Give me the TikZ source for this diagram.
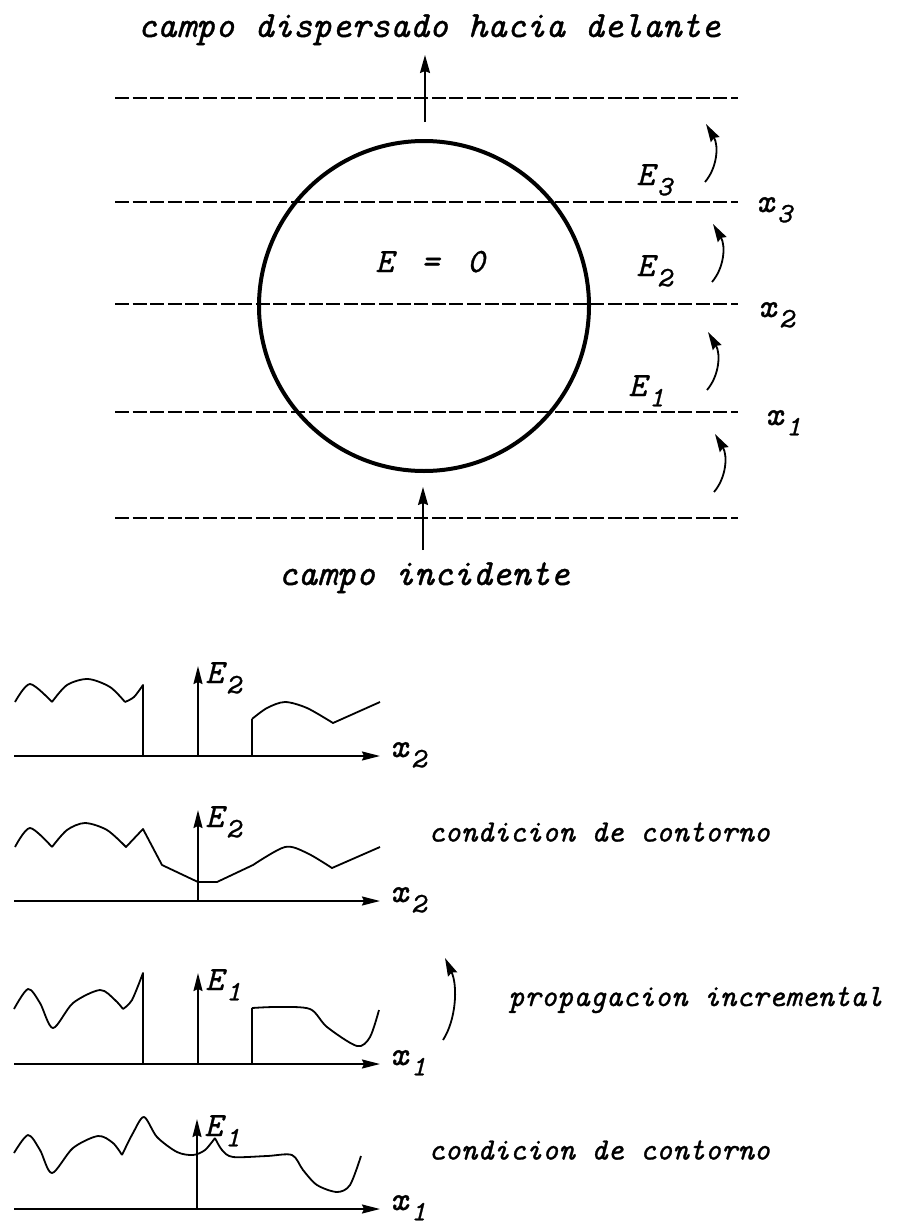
\documentclass[tikz,border=0pt]{standalone}
\usepackage{fontspec}
\usetikzlibrary{arrows.meta}

\newfontfamily\refit{lmmono10-italic.otf}[FakeBold=1]
\newcommand\bigfont{\fontsize{18.5}{22}\selectfont\refit}
\newcommand\lblfont{\fontsize{15.5}{18}\selectfont\refit}
\newcommand\symfont{\fontsize{17}{20}\selectfont\refit}
\newcommand\idx[2]{#1\kern1.5pt\raisebox{-0.7ex}{\fontsize{14}{16}\selectfont #2}}

\tikzset{
  cut/.style={line width=0.9pt, dash pattern=on 7pt off 1.8pt},
  ball/.style={line width=2pt},
  flow/.style={-{Stealth[length=9pt,width=5pt,inset=1pt]}, line width=0.9pt},
  turn/.style={-{Stealth[length=9pt,width=5pt,inset=1pt]}, line width=0.9pt},
  axe/.style={-{Stealth[length=9pt,width=4.5pt,inset=1pt]}, line width=0.9pt},
  field/.style={line width=0.9pt, line join=round},
  lbl/.style={inner sep=0pt, anchor=base west, font=\lblfont},
  sym/.style={inner sep=0pt, anchor=base west, font=\symfont},
  big/.style={inner sep=0pt, anchor=base, font=\bigfont}
}

\begin{document}
\begin{tikzpicture}[x=0.5pt, y=-0.5pt]
\useasboundingbox (0,0) rectangle (905,1226);

% upper part: sphere cut into slabs
\foreach \yy in {98,202,304,412,518}
  \draw[cut] (115,\yy) -- (738,\yy);
\draw[ball] (424,306) circle [radius=165];

\node[big] (fwd) at (429,37) {campo dispersado hacia delante};
\node[big] (inc) at (424,585) {campo incidente};
\coordinate (ballTop) at (425,122);
\coordinate (ballBot) at (423,550);
\draw[flow] (ballTop) -- (425,55);
\draw[flow] (ballBot) -- (423,487);

\node[sym] (zero) at (375,272) {E\hspace{14pt}=\hspace{14pt}0};

\node[sym] (E3) at (636,185) {\idx{E}{3}};
\node[sym] (E2) at (636,276) {\idx{E}{2}};
\node[sym] (E1) at (628,396) {\idx{E}{1}};
\node[sym] (x3) at (756,212) {\idx{x}{3}};
\node[sym] (x2) at (758,317) {\idx{x}{2}};
\node[sym] (x1) at (765,425) {\idx{x}{1}};

\foreach \tx/\ty in {705/182, 712/282, 707/390, 714/492}
  \draw[turn] (\tx,\ty) .. controls +(12,-14) and +(13,22) .. (\tx+1,\ty-58);

% lower part: field along each plane
\foreach \ay/\ox/\top/\n in {756/198/666/2, 901/198/810/2, 1064/198/973/1, 1209/197/1119/1}{
  \coordinate (o\ay) at (\ox,\ay);
  \draw[axe] (14,\ay) -- (380,\ay);
  \draw[axe] (o\ay) -- (\ox,\top);
  \node[sym] (E\ay) at (\ox+7,\top+17) {\idx{E}{\n}};
  \node[sym] (x\ay) at (390,\ay+1) {\idx{x}{\n}};
}

% E_2 before boundary condition
\draw[field] plot[smooth] coordinates {(15,702) (30,684) (52,702)}
  plot[smooth] coordinates {(52,702) (67,685) (88,679) (110,687) (125,702)}
  plot[smooth] coordinates {(125,702) (134,697) (143,685)} -- (143,756);
\draw[field] (252,756) -- (252,719)
  plot[smooth] coordinates {(252,719) (267,708) (285,702) (307,708) (333,723)} -- (380,702);

% E_2 after boundary condition
\draw[field] plot[smooth] coordinates {(15,847) (30,828) (52,847)}
  plot[smooth] coordinates {(52,847) (67,830) (85,823) (107,830) (126,847)}
  -- (143,829) -- (162,865) -- (198,882) -- (217,882) -- (253,865)
  plot[smooth] coordinates {(253,865) (285,847) (307,853) (332,868)} -- (380,847);

% E_1 before boundary condition
\draw[field] plot[smooth] coordinates {(14,1009) (28,989) (40,1003) (53,1028) (73,1003) (100,990) (115,1000) (123,1009)}
  plot[smooth] coordinates {(123,1009) (132,1000) (143,973)} -- (143,1064);
\draw[field] (252,1064) -- (252,1008)
  plot[smooth] coordinates {(252,1008) (277,1007) (310,1009) (327,1027) (357,1046) (370,1037) (379,1010)};

% E_1 after boundary condition
\draw[field] plot[smooth] coordinates {(14,1153) (28,1135) (40,1150) (52,1173) (73,1148) (98,1136) (113,1143) (122,1155)}
  plot[smooth] coordinates {(122,1155) (133,1133) (144,1117) (157,1137) (177,1152) (193,1155) (205,1150) (215,1138)}
  plot[smooth] coordinates {(215,1138) (222,1150) (233,1157) (267,1156) (292,1155) (303,1170) (317,1185) (337,1192) (350,1185) (361,1156)};

\node[lbl, anchor=west] (bc2) at (428,832) {condicion de contorno};
\node[lbl, anchor=west] (prop) at (508,1000) {propagacion incremental};
\node[lbl, anchor=west] (bc1) at (428,1150) {condicion de contorno};
\coordinate (propTail) at (443,1040);
\draw[turn] (propTail) .. controls +(13,-20) and +(13,28) .. (445,958);

\end{tikzpicture}
\end{document}
